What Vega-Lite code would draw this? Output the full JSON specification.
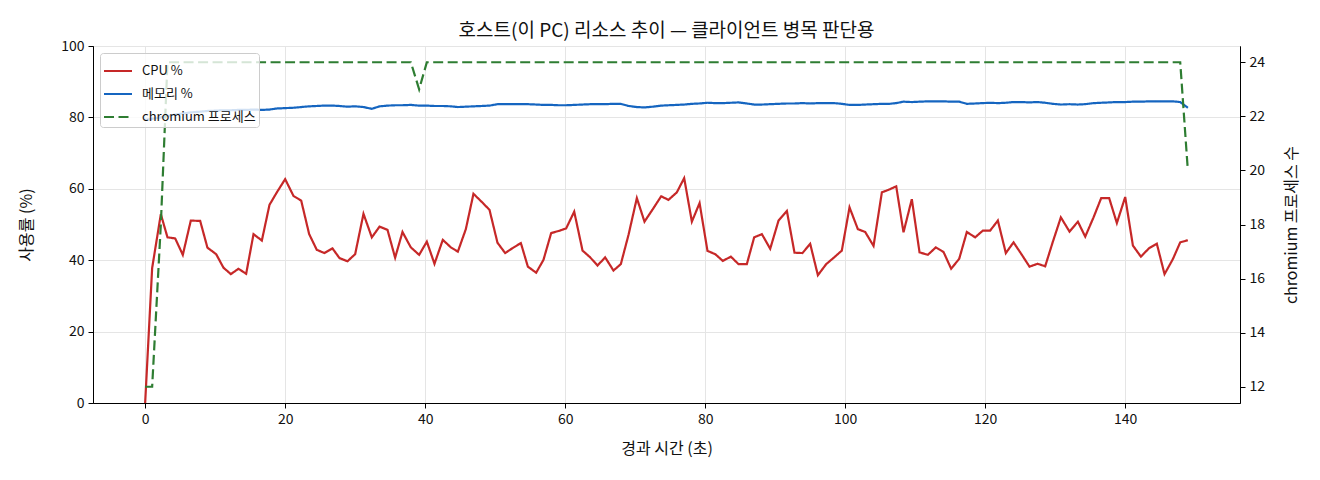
{
  "$schema": "https://vega.github.io/schema/vega-lite/v6.json",
  "description": "Host resource trend: CPU, memory and chromium process count",
  "width": 1147,
  "height": 357,
  "autosize": {"type": "none"},
  "padding": {"left": 93, "top": 46, "right": 80, "bottom": 77},
  "background": "white",
  "title": {
    "text": "호스트(이 PC) 리소스 추이 — 클라이언트 병목 판단용",
    "fontSize": 19,
    "fontWeight": "normal",
    "font": "Noto Sans CJK KR",
    "color": "#111",
    "anchor": "middle",
    "offset": -2
  },
  "data": {
    "values": [
      {"t": 0, "CPU %": 0, "메모리 %": 79.3, "chromium 프로세스": 12},
      {"t": 1.0, "CPU %": 37.8, "메모리 %": 79.6, "chromium 프로세스": 12},
      {"t": 2.24, "CPU %": 52.9, "메모리 %": 80.0, "chromium 프로세스": 18},
      {"t": 3.19, "CPU %": 46.4, "메모리 %": 80.4, "chromium 프로세스": 24},
      {"t": 4.29, "CPU %": 46.1, "메모리 %": 80.8, "chromium 프로세스": 24},
      {"t": 5.38, "CPU %": 41.5, "메모리 %": 81.1, "chromium 프로세스": 24},
      {"t": 6.52, "CPU %": 51.1, "메모리 %": 81.4, "chromium 프로세스": 24},
      {"t": 7.86, "CPU %": 51.0, "메모리 %": 81.6, "chromium 프로세스": 24},
      {"t": 8.9, "CPU %": 43.5, "메모리 %": 81.8, "chromium 프로세스": 24},
      {"t": 10.14, "CPU %": 41.7, "메모리 %": 81.9, "chromium 프로세스": 24},
      {"t": 11.19, "CPU %": 37.9, "메모리 %": 82.0, "chromium 프로세스": 24},
      {"t": 12.24, "CPU %": 36.1, "메모리 %": 82.0, "chromium 프로세스": 24},
      {"t": 13.33, "CPU %": 37.6, "메모리 %": 82.1, "chromium 프로세스": 24},
      {"t": 14.43, "CPU %": 36.2, "메모리 %": 82.1, "chromium 프로세스": 24},
      {"t": 15.48, "CPU %": 47.3, "메모리 %": 82.2, "chromium 프로세스": 24},
      {"t": 16.67, "CPU %": 45.5, "메모리 %": 82.1, "chromium 프로세스": 24},
      {"t": 17.76, "CPU %": 55.5, "메모리 %": 82.2, "chromium 프로세스": 24},
      {"t": 18.81, "CPU %": 59.0, "메모리 %": 82.5, "chromium 프로세스": 24},
      {"t": 20.0, "CPU %": 62.7, "메모리 %": 82.6, "chromium 프로세스": 24},
      {"t": 21.19, "CPU %": 58.0, "메모리 %": 82.7, "chromium 프로세스": 24},
      {"t": 22.29, "CPU %": 56.7, "메모리 %": 82.9, "chromium 프로세스": 24},
      {"t": 23.43, "CPU %": 47.3, "메모리 %": 83.1, "chromium 프로세스": 24},
      {"t": 24.52, "CPU %": 42.9, "메모리 %": 83.2, "chromium 프로세스": 24},
      {"t": 25.62, "CPU %": 42.0, "메모리 %": 83.3, "chromium 프로세스": 24},
      {"t": 26.76, "CPU %": 43.3, "메모리 %": 83.3, "chromium 프로세스": 24},
      {"t": 27.76, "CPU %": 40.6, "메모리 %": 83.2, "chromium 프로세스": 24},
      {"t": 28.9, "CPU %": 39.7, "메모리 %": 83.0, "chromium 프로세스": 24},
      {"t": 30.0, "CPU %": 41.7, "메모리 %": 83.1, "chromium 프로세스": 24},
      {"t": 31.19, "CPU %": 53.0, "메모리 %": 82.9, "chromium 프로세스": 24},
      {"t": 32.38, "CPU %": 46.4, "메모리 %": 82.4, "chromium 프로세스": 24},
      {"t": 33.48, "CPU %": 49.4, "메모리 %": 83.1, "chromium 프로세스": 24},
      {"t": 34.62, "CPU %": 48.5, "메모리 %": 83.3, "chromium 프로세스": 24},
      {"t": 35.71, "CPU %": 40.7, "메모리 %": 83.4, "chromium 프로세스": 24},
      {"t": 36.76, "CPU %": 47.9, "메모리 %": 83.4, "chromium 프로세스": 24},
      {"t": 37.95, "CPU %": 43.6, "메모리 %": 83.5, "chromium 프로세스": 24},
      {"t": 39.14, "CPU %": 41.5, "메모리 %": 83.3, "chromium 프로세스": 23},
      {"t": 40.24, "CPU %": 45.2, "메모리 %": 83.3, "chromium 프로세스": 24},
      {"t": 41.33, "CPU %": 39.0, "메모리 %": 83.2, "chromium 프로세스": 24},
      {"t": 42.52, "CPU %": 45.7, "메모리 %": 83.2, "chromium 프로세스": 24},
      {"t": 43.67, "CPU %": 43.6, "메모리 %": 83.1, "chromium 프로세스": 24},
      {"t": 44.67, "CPU %": 42.4, "메모리 %": 82.9, "chromium 프로세스": 24},
      {"t": 45.81, "CPU %": 48.7, "메모리 %": 83.0, "chromium 프로세스": 24},
      {"t": 46.9, "CPU %": 58.6, "메모리 %": 83.1, "chromium 프로세스": 24},
      {"t": 48.1, "CPU %": 56.3, "메모리 %": 83.2, "chromium 프로세스": 24},
      {"t": 49.19, "CPU %": 54.1, "메모리 %": 83.3, "chromium 프로세스": 24},
      {"t": 50.33, "CPU %": 44.9, "메모리 %": 83.7, "chromium 프로세스": 24},
      {"t": 51.43, "CPU %": 42.0, "메모리 %": 83.7, "chromium 프로세스": 24},
      {"t": 52.5, "CPU %": 43.4, "메모리 %": 83.7, "chromium 프로세스": 24},
      {"t": 53.67, "CPU %": 44.8, "메모리 %": 83.7, "chromium 프로세스": 24},
      {"t": 54.67, "CPU %": 38.2, "메모리 %": 83.7, "chromium 프로세스": 24},
      {"t": 55.86, "CPU %": 36.5, "메모리 %": 83.6, "chromium 프로세스": 24},
      {"t": 56.9, "CPU %": 40.1, "메모리 %": 83.5, "chromium 프로세스": 24},
      {"t": 58.0, "CPU %": 47.6, "메모리 %": 83.5, "chromium 프로세스": 24},
      {"t": 59.1, "CPU %": 48.2, "메모리 %": 83.4, "chromium 프로세스": 24},
      {"t": 60.14, "CPU %": 48.9, "메모리 %": 83.4, "chromium 프로세스": 24},
      {"t": 61.29, "CPU %": 53.6, "메모리 %": 83.5, "chromium 프로세스": 24},
      {"t": 62.48, "CPU %": 42.7, "메모리 %": 83.6, "chromium 프로세스": 24},
      {"t": 63.57, "CPU %": 40.8, "메모리 %": 83.7, "chromium 프로세스": 24},
      {"t": 64.62, "CPU %": 38.5, "메모리 %": 83.7, "chromium 프로세스": 24},
      {"t": 65.71, "CPU %": 40.8, "메모리 %": 83.7, "chromium 프로세스": 24},
      {"t": 66.9, "CPU %": 37.1, "메모리 %": 83.8, "chromium 프로세스": 24},
      {"t": 67.95, "CPU %": 38.9, "메모리 %": 83.8, "chromium 프로세스": 24},
      {"t": 69.05, "CPU %": 47.1, "메모리 %": 83.2, "chromium 프로세스": 24},
      {"t": 70.24, "CPU %": 57.4, "메모리 %": 82.9, "chromium 프로세스": 24},
      {"t": 71.33, "CPU %": 50.8, "메모리 %": 82.8, "chromium 프로세스": 24},
      {"t": 72.52, "CPU %": 54.3, "메모리 %": 83.0, "chromium 프로세스": 24},
      {"t": 73.71, "CPU %": 57.9, "메모리 %": 83.3, "chromium 프로세스": 24},
      {"t": 74.76, "CPU %": 56.9, "메모리 %": 83.4, "chromium 프로세스": 24},
      {"t": 75.95, "CPU %": 59.0, "메모리 %": 83.5, "chromium 프로세스": 24},
      {"t": 77.0, "CPU %": 63.0, "메모리 %": 83.6, "chromium 프로세스": 24},
      {"t": 78.1, "CPU %": 50.8, "메모리 %": 83.8, "chromium 프로세스": 24},
      {"t": 79.2, "CPU %": 56.0, "메모리 %": 83.9, "chromium 프로세스": 24},
      {"t": 80.33, "CPU %": 42.6, "메모리 %": 84.1, "chromium 프로세스": 24},
      {"t": 81.43, "CPU %": 41.7, "메모리 %": 84.0, "chromium 프로세스": 24},
      {"t": 82.52, "CPU %": 39.8, "메모리 %": 84.0, "chromium 프로세스": 24},
      {"t": 83.67, "CPU %": 41.0, "메모리 %": 84.1, "chromium 프로세스": 24},
      {"t": 84.76, "CPU %": 38.9, "메모리 %": 84.2, "chromium 프로세스": 24},
      {"t": 85.95, "CPU %": 38.9, "메모리 %": 83.9, "chromium 프로세스": 24},
      {"t": 87.0, "CPU %": 46.4, "메모리 %": 83.6, "chromium 프로세스": 24},
      {"t": 88.1, "CPU %": 47.3, "메모리 %": 83.6, "chromium 프로세스": 24},
      {"t": 89.29, "CPU %": 43.2, "메모리 %": 83.7, "chromium 프로세스": 24},
      {"t": 90.48, "CPU %": 51.1, "메모리 %": 83.8, "chromium 프로세스": 24},
      {"t": 91.67, "CPU %": 53.8, "메모리 %": 83.9, "chromium 프로세스": 24},
      {"t": 92.76, "CPU %": 42.1, "메모리 %": 83.9, "chromium 프로세스": 24},
      {"t": 93.9, "CPU %": 42.0, "메모리 %": 84.0, "chromium 프로세스": 24},
      {"t": 95.0, "CPU %": 44.6, "메모리 %": 83.9, "chromium 프로세스": 24},
      {"t": 96.1, "CPU %": 35.8, "메모리 %": 84.0, "chromium 프로세스": 24},
      {"t": 97.29, "CPU %": 38.9, "메모리 %": 84.0, "chromium 프로세스": 24},
      {"t": 98.43, "CPU %": 40.8, "메모리 %": 84.0, "chromium 프로세스": 24},
      {"t": 99.52, "CPU %": 42.7, "메모리 %": 83.8, "chromium 프로세스": 24},
      {"t": 100.62, "CPU %": 54.8, "메모리 %": 83.5, "chromium 프로세스": 24},
      {"t": 101.81, "CPU %": 48.7, "메모리 %": 83.5, "chromium 프로세스": 24},
      {"t": 102.86, "CPU %": 47.9, "메모리 %": 83.6, "chromium 프로세스": 24},
      {"t": 104.05, "CPU %": 44.0, "메모리 %": 83.7, "chromium 프로세스": 24},
      {"t": 105.24, "CPU %": 59.0, "메모리 %": 83.8, "chromium 프로세스": 24},
      {"t": 106.3, "CPU %": 59.8, "메모리 %": 83.8, "chromium 프로세스": 24},
      {"t": 107.29, "CPU %": 60.7, "메모리 %": 84.0, "chromium 프로세스": 24},
      {"t": 108.33, "CPU %": 47.8, "메모리 %": 84.4, "chromium 프로세스": 24},
      {"t": 109.52, "CPU %": 57.1, "메모리 %": 84.3, "chromium 프로세스": 24},
      {"t": 110.62, "CPU %": 42.2, "메모리 %": 84.4, "chromium 프로세스": 24},
      {"t": 111.81, "CPU %": 41.5, "메모리 %": 84.5, "chromium 프로세스": 24},
      {"t": 112.95, "CPU %": 43.6, "메모리 %": 84.5, "chromium 프로세스": 24},
      {"t": 114.05, "CPU %": 42.3, "메모리 %": 84.5, "chromium 프로세스": 24},
      {"t": 115.14, "CPU %": 37.6, "메모리 %": 84.4, "chromium 프로세스": 24},
      {"t": 116.29, "CPU %": 40.4, "메모리 %": 84.4, "chromium 프로세스": 24},
      {"t": 117.38, "CPU %": 47.9, "메모리 %": 83.8, "chromium 프로세스": 24},
      {"t": 118.57, "CPU %": 46.4, "메모리 %": 83.9, "chromium 프로세스": 24},
      {"t": 119.67, "CPU %": 48.3, "메모리 %": 84.0, "chromium 프로세스": 24},
      {"t": 120.71, "CPU %": 48.3, "메모리 %": 84.1, "chromium 프로세스": 24},
      {"t": 121.81, "CPU %": 51.1, "메모리 %": 84.0, "chromium 프로세스": 24},
      {"t": 122.95, "CPU %": 42.0, "메모리 %": 84.1, "chromium 프로세스": 24},
      {"t": 124.05, "CPU %": 45.0, "메모리 %": 84.3, "chromium 프로세스": 24},
      {"t": 125.24, "CPU %": 41.5, "메모리 %": 84.3, "chromium 프로세스": 24},
      {"t": 126.33, "CPU %": 38.2, "메모리 %": 84.2, "chromium 프로세스": 24},
      {"t": 127.48, "CPU %": 39.0, "메모리 %": 84.3, "chromium 프로세스": 24},
      {"t": 128.57, "CPU %": 38.3, "메모리 %": 84.1, "chromium 프로세스": 24},
      {"t": 129.67, "CPU %": 45.2, "메모리 %": 83.8, "chromium 프로세스": 24},
      {"t": 130.81, "CPU %": 52.0, "메모리 %": 83.6, "chromium 프로세스": 24},
      {"t": 132.05, "CPU %": 48.0, "메모리 %": 83.7, "chromium 프로세스": 24},
      {"t": 133.24, "CPU %": 50.8, "메모리 %": 83.6, "chromium 프로세스": 24},
      {"t": 134.29, "CPU %": 46.6, "메모리 %": 83.7, "chromium 프로세스": 24},
      {"t": 135.48, "CPU %": 52.0, "메모리 %": 84.0, "chromium 프로세스": 24},
      {"t": 136.57, "CPU %": 57.4, "메모리 %": 84.1, "chromium 프로세스": 24},
      {"t": 137.71, "CPU %": 57.4, "메모리 %": 84.2, "chromium 프로세스": 24},
      {"t": 138.81, "CPU %": 50.4, "메모리 %": 84.3, "chromium 프로세스": 24},
      {"t": 140.0, "CPU %": 57.7, "메모리 %": 84.3, "chromium 프로세스": 24},
      {"t": 141.1, "CPU %": 44.1, "메모리 %": 84.4, "chromium 프로세스": 24},
      {"t": 142.24, "CPU %": 41.0, "메모리 %": 84.4, "chromium 프로세스": 24},
      {"t": 143.43, "CPU %": 43.4, "메모리 %": 84.5, "chromium 프로세스": 24},
      {"t": 144.52, "CPU %": 44.6, "메모리 %": 84.5, "chromium 프로세스": 24},
      {"t": 145.62, "CPU %": 36.1, "메모리 %": 84.5, "chromium 프로세스": 24},
      {"t": 146.81, "CPU %": 40.3, "메모리 %": 84.5, "chromium 프로세스": 24},
      {"t": 147.86, "CPU %": 45.0, "메모리 %": 84.3, "chromium 프로세스": 24},
      {"t": 148.95, "CPU %": 45.6, "메모리 %": 82.7, "chromium 프로세스": 20}
    ]
  },
  "encoding": {
    "x": {
      "field": "t",
      "type": "quantitative",
      "title": "경과 시간 (초)",
      "scale": {"domain": [-7.45, 156.4], "nice": false, "zero": false},
      "axis": {"values": [0, 20, 40, 60, 80, 100, 120, 140], "titlePadding": 14}
    }
  },
  "layer": [
    {
      "transform": [{"fold": ["CPU %", "메모리 %"], "as": ["series", "value"]}],
      "mark": {"type": "line", "strokeWidth": 2.2, "clip": true},
      "encoding": {
        "y": {
          "field": "value",
          "type": "quantitative",
          "title": "사용률 (%)",
          "scale": {"domain": [0, 100], "nice": false},
          "axis": {"values": [0, 20, 40, 60, 80, 100], "titlePadding": 26}
        },
        "color": {
          "field": "series",
          "type": "nominal",
          "scale": {"domain": ["CPU %", "메모리 %", "chromium 프로세스"], "range": ["#c62828", "#1565c0", "#2e7d32"]},
          "legend": {"title": null}
        },
        "strokeDash": {
          "field": "series",
          "type": "nominal",
          "scale": {"domain": ["CPU %", "메모리 %", "chromium 프로세스"], "range": [[1, 0], [1, 0], [10, 4.5]]},
          "legend": {"title": null}
        }
      }
    },
    {
      "transform": [{"fold": ["chromium 프로세스"], "as": ["series", "count"]}],
      "mark": {"type": "line", "strokeWidth": 2.2, "clip": true},
      "encoding": {
        "y": {
          "field": "count",
          "type": "quantitative",
          "title": "chromium 프로세스 수",
          "scale": {"domain": [11.4, 24.6], "nice": false, "zero": false},
          "axis": {
            "orient": "right",
            "grid": false,
            "values": [12, 14, 16, 18, 20, 22, 24],
            "titleAngle": 270,
            "titleBaseline": "bottom",
            "titlePadding": 35
          }
        },
        "color": {"field": "series", "type": "nominal"},
        "strokeDash": {"field": "series", "type": "nominal"}
      }
    }
  ],
  "resolve": {"scale": {"y": "independent"}},
  "config": {
    "font": "Noto Sans CJK KR",
    "view": {"stroke": "#000", "strokeWidth": 1},
    "axis": {
      "labelFont": "Noto Sans CJK KR",
      "titleFont": "Noto Sans CJK KR",
      "labelFontSize": 14,
      "titleFontSize": 16,
      "titleFontWeight": "normal",
      "labelColor": "#111",
      "titleColor": "#111",
      "domainColor": "#000",
      "tickColor": "#000",
      "tickSize": 5,
      "labelPadding": 4,
      "gridColor": "#e5e5e5",
      "gridWidth": 1
    },
    "legend": {
      "orient": "top-left",
      "offset": 7,
      "padding": 3,
      "symbolType": "stroke",
      "symbolSize": 784,
      "symbolStrokeWidth": 2,
      "labelFont": "Noto Sans CJK KR",
      "labelFontSize": 13,
      "labelOffset": 9,
      "labelColor": "#111",
      "rowPadding": 1,
      "fillColor": "rgba(255,255,255,0.8)",
      "strokeColor": "#cccccc",
      "cornerRadius": 3
    }
  }
}
